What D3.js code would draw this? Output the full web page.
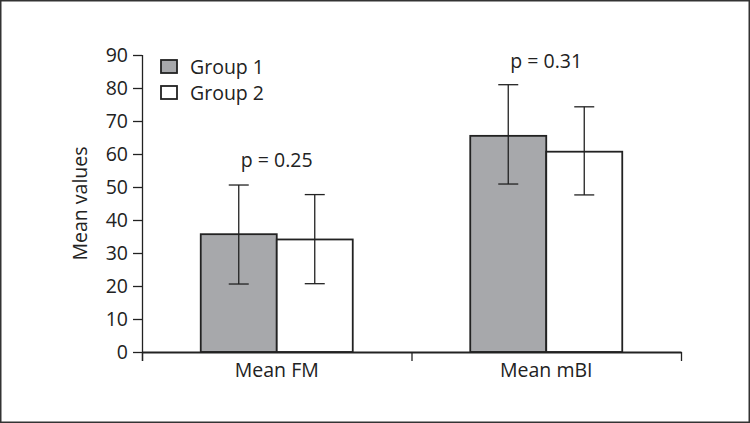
<!DOCTYPE html>
<html><head><meta charset="utf-8">
<script src="https://cdn.jsdelivr.net/npm/d3@7"></script>
<style>body{margin:0;background:#fff}svg{display:block}</style>
</head><body>
<svg id="c" width="750" height="423"></svg>
<script>
const categories = ["Mean FM", "Mean mBI"];
const groups = ["Group 1", "Group 2"];
const group1Values = [35.7, 65.5];
const group2Values = [34.1, 60.7];
const group1Low = [20.6, 50.9];
const group1High = [50.6, 81.0];
const group2Low = [20.7, 47.6];
const group2High = [47.7, 74.3];
const pLabels = ["p = 0.25", "p = 0.31"];
const pLabelValues = [56, 86];
const yTicks = [0,10,20,30,40,50,60,70,80,90];

(function(){
const svg = d3.select("#c");
const font = "'Open Sans', sans-serif";
const fs = 19.5;
const ink = "#222";
svg.append("rect").attr("x",0.75).attr("y",0.75).attr("width",748.5).attr("height",421.5)
  .attr("fill","#fff").attr("stroke","#333").attr("stroke-width",1.5);

const mLeft = 142, mRight = 681, mTop = 55, mBottom = 352;
const y = d3.scaleLinear().domain([0,90]).range([mBottom, mTop]);
const x = d3.scaleBand().domain(categories).range([mLeft, mRight]).paddingInner(0).paddingOuter(0);
const xs = d3.scaleBand().domain(groups).range([0, x.bandwidth()]).paddingOuter(0.773).paddingInner(0);

const series = [
  {name: groups[0], vals: group1Values, lo: group1Low, hi: group1High, fill: "#a7a8ab"},
  {name: groups[1], vals: group2Values, lo: group2Low, hi: group2High, fill: "#ffffff"}
];

const g = svg.append("g");
series.forEach(s => {
  categories.forEach((c, i) => {
    const x0 = x(c) + xs(s.name);
    g.append("rect").attr("x", x0).attr("y", y(s.vals[i]))
      .attr("width", xs.bandwidth()).attr("height", y(0) - y(s.vals[i]))
      .attr("fill", s.fill).attr("stroke", ink).attr("stroke-width", 1.8);
  });
});
series.forEach(s => {
  categories.forEach((c, i) => {
    const cx = x(c) + xs(s.name) + xs.bandwidth()/2;
    g.append("line").attr("x1",cx).attr("x2",cx).attr("y1",y(s.lo[i])).attr("y2",y(s.hi[i])).attr("stroke",ink).attr("stroke-width",1.3);
    [s.lo[i], s.hi[i]].forEach(v => {
      g.append("line").attr("x1",cx-10).attr("x2",cx+10).attr("y1",y(v)).attr("y2",y(v)).attr("stroke",ink).attr("stroke-width",1.3);
    });
  });
});

// y axis
const ya = svg.append("g").attr("transform",`translate(${mLeft},0)`)
  .call(d3.axisLeft(y).tickValues(yTicks).tickSize(9).tickPadding(5).tickSizeOuter(0));
ya.select(".domain").attr("stroke", ink).attr("stroke-width",1.3).attr("d", `M0.5,${mTop}V${mBottom+9}`);
ya.selectAll(".tick line").attr("stroke", ink).attr("stroke-width",1.3);
ya.selectAll("text").attr("font-family", font).attr("font-size", fs).attr("fill", ink);

// x axis
const xa = svg.append("g").attr("transform",`translate(0,${mBottom})`)
  .call(d3.axisBottom(x).tickSize(0).tickPadding(11));
xa.select(".domain").attr("stroke", ink).attr("stroke-width",1.8);
xa.selectAll("text").attr("font-family", font).attr("font-size", fs).attr("fill", ink);
const bounds = [mLeft, x(categories[1]), mRight];
bounds.forEach(b => xa.append("line").attr("x1",b+0.5).attr("x2",b+0.5).attr("y1",0).attr("y2",9).attr("stroke",ink).attr("stroke-width",1.3));

// y label
svg.append("text").attr("transform",`translate(87,${(mTop+mBottom)/2}) rotate(-90)`)
  .attr("text-anchor","middle").attr("font-family",font).attr("font-size",fs).attr("fill",ink).text("Mean values");

// p labels
categories.forEach((c,i) => {
  svg.append("text").attr("x", x(c)+x.bandwidth()/2).attr("y", y(pLabelValues[i]))
    .attr("text-anchor","middle").attr("font-family",font).attr("font-size",fs).attr("fill",ink).text(pLabels[i]);
});

// legend
series.forEach((s,i) => {
  const ly = 60 + i*26;
  svg.append("rect").attr("x",161).attr("y",ly).attr("width",16).attr("height",13)
    .attr("fill",s.fill).attr("stroke",ink).attr("stroke-width",1.8);
  svg.append("text").attr("x",190).attr("y",ly+14).attr("font-family",font).attr("font-size",fs).attr("fill",ink).text(s.name);
});
})();
</script>
</body></html>
